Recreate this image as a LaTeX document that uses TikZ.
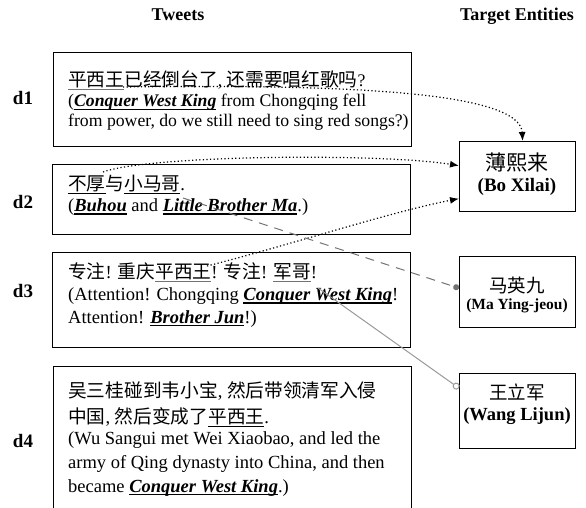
\documentclass[tikz,border=0pt]{standalone}
\usepackage{fontspec}
\setmainfont{Liberation Serif}
\newfontfamily\cjk{Noto Sans CJK SC}
\usetikzlibrary{arrows.meta}
\definecolor{ulgray}{gray}{0.45}
\definecolor{linkgray}{gray}{0.45}
\definecolor{solidgray}{gray}{0.6}
\newcommand\zhs[2]{{\cjk\fontsize{#1}{\baselineskip}\selectfont #2}}
\newcommand\zh[1]{\zhs{18.7}{#1}}
% underline helper: #1 thickness, #2 colour, #3 drop below baseline, #4 text
\newcommand\ulx[4]{\leavevmode\setbox0\hbox{#4}\rlap{\textcolor{#2}{\rule[-#3]{\wd0}{#1}}}\box0\relax}
\newcommand\ent[1]{\ulx{1.3pt}{black}{3pt}{\textbf{\textit{#1}}}}
\newcommand\zul[1]{\ulx{0.9pt}{black}{3.5pt}{\zh{#1}}}
\newcommand\zgul[1]{\ulx{1pt}{ulgray}{3.5pt}{\zh{#1}}}
\begin{document}
\begin{tikzpicture}[x=1pt,y=-1pt,
  tbox/.style={draw, line width=1.3pt, minimum width=358pt, anchor=north west, inner sep=0pt},
  ebox/.style={draw, line width=1.3pt, minimum width=116pt, anchor=north west, inner sep=0pt},
  ttext/.style={anchor=base west, inner sep=0pt, align=left},
  etext/.style={anchor=base, inner sep=0pt, align=center},
  dlabel/.style={font=\fontsize{19}{19}\selectfont\bfseries, anchor=base, inner sep=0pt},
  headtext/.style={font=\fontsize{18}{18}\selectfont\bfseries, anchor=base, inner sep=0pt},
  dotlink/.style={line width=1.2pt, dash pattern=on 1.2pt off 2.4pt, -{Latex[length=9pt,width=7pt]}},
  dashlink/.style={draw=linkgray, line width=1pt, dash pattern=on 9pt off 7pt, -{Circle[length=6pt, fill=linkgray]}},
  solidlink/.style={draw=solidgray, line width=1pt, -{Circle[open, length=7pt, fill=white]}}
]
\clip (0,0) rectangle (586,508);
% headers
\node[headtext] (hT) at (178,21) {Tweets};
\node[headtext] (hE) at (517,21) {Target Entities};
% tweet boxes
\node[tbox, minimum height=94pt] (b1) at (53,52) {};
\node[tbox, minimum height=70pt] (b2) at (52,164) {};
\node[tbox, minimum height=95pt] (b3) at (52,252) {};
\node[tbox, minimum height=160pt] (b4) at (53,366) {};
% labels
\node[dlabel] (l1) at (23,105) {d1};
\node[dlabel] (l2) at (23,208) {d2};
\node[dlabel] (l3) at (23,297) {d3};
\node[dlabel] (l4) at (23,447) {d4};
% tweet texts (base anchor = baseline of the last line)
\node[ttext, font=\fontsize{17.7}{20}\selectfont] (t1) at (68,127)
 {\zgul{平西王}\zh{已经倒台了}, \zh{还需要唱红歌吗}?\\
  (\ent{Conquer West King} from Chongqing fell\\
  from power, do we still need to sing red songs?)};
\node[ttext, font=\fontsize{18.5}{21.5}\selectfont] (t2) at (68,211.5)
 {\zul{不厚}\zh{与}\zul{小马哥}.\\
  (\ent{Buhou} and \ent{Little Brother Ma}.)};
\node[ttext, font=\fontsize{18.5}{22.5}\selectfont] (t3) at (68,323)
 {\zh{专注}! \zh{重庆}\zgul{平西王}! \zh{专注}! \zgul{军哥}!\\
  (Attention! Chongqing \ent{Conquer West King}!\\
  Attention! \ent{Brother Jun}!)};
\node[ttext, font=\fontsize{18.5}{24}\selectfont] (t4) at (68,492)
 {\zh{吴三桂碰到韦小宝}, \zh{然后带领清军入侵}\\[2pt]
  \zh{中国}, \zh{然后变成了}\zul{平西王}.\\[-3pt]
  (Wu Sangui met Wei Xiaobao, and led the\\
  army of Qing dynasty into China, and then\\
  became \ent{Conquer West King}.)};
% entity boxes
\node[ebox, minimum height=70pt] (e1) at (459,141) {};
\node[ebox, minimum height=71pt] (e2) at (459,256) {};
\node[ebox, minimum height=75pt] (e3) at (459,373) {};
\node[etext, font=\fontsize{19}{21}\selectfont] (e1t) at (517,191)
 {\zhs{21}{薄熙来}\\ \textbf{(Bo Xilai)}};
\node[etext, font=\fontsize{15.5}{17}\selectfont] (e2t) at (517,309)
 {\zhs{18.5}{马英九}\\ \textbf{(Ma Ying-jeou)}};
\node[etext, font=\fontsize{18.5}{20.5}\selectfont] (e3t) at (517,420)
 {\zhs{18.5}{王立军}\\ \textbf{(Wang Lijun)}};
% connector start points
\coordinate (s1) at (123,87);
\coordinate (s2) at (103,172);
\coordinate (s3) at (207,266);
\coordinate (s4) at (183,198);
\coordinate (s5) at (318,288);
% connectors
\draw[dotlink] (s1) .. controls (350,84) and (520,92) .. ([xshift=5pt]e1.north);
\draw[dotlink] (s2) .. controls (150,155) and (380,153) .. ([yshift=11pt]e1.west);
\draw[dotlink] (s3) .. controls (290,245) and (390,212) .. ([yshift=-22pt]e1.west);
\draw[dashlink] (s4) -- ([yshift=4pt]e2.west);
\draw[solidlink] (s5) -- ([yshift=23pt]e3.west);
\end{tikzpicture}
\end{document}
